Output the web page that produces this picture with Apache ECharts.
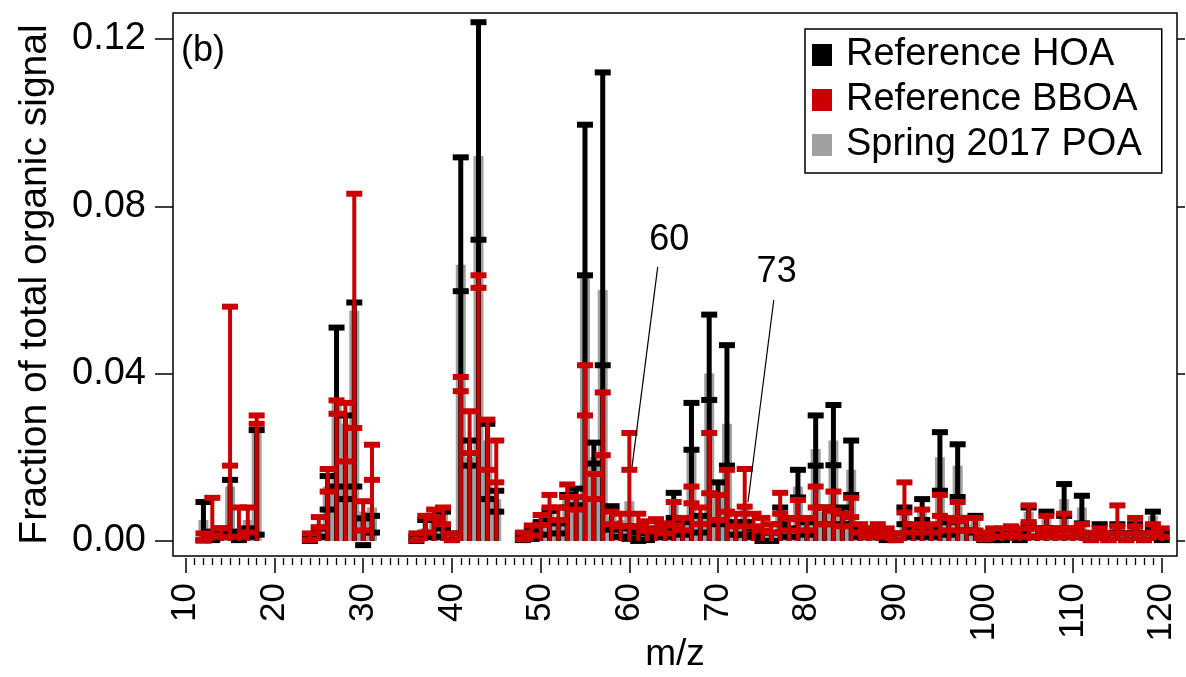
<!DOCTYPE html>
<html><head><meta charset="utf-8">
<script src="https://cdn.jsdelivr.net/npm/echarts@6/dist/echarts.min.js"></script>
<style>html,body{margin:0;padding:0;background:#fff}#c{width:1186px;height:677px}</style>
</head><body><div id="c"></div>
<script>
// ---- data ----
const mz = [12,13,14,15,16,17,18,
  24,25,26,27,28,29,30,31,
  36,37,38,39,40,41,42,43,44,45,
  48,49,50,51,52,53,54,55,56,57,58,59,60,61,62,63,64,65,66,67,68,69,70,
  71,72,73,74,75,76,77,78,79,80,81,82,83,84,85,86,87,88,89,90,
  91,92,93,94,95,96,97,98,99,100,101,102,103,104,105,106,107,108,109,110,
  111,112,113,114,115,116,117,118,119,120];
const hoa = [0.0047,0.0012,0.002,0.0083,0.0012,0.002,0.014,
  0.0005,0.002,0.0115,0.032,0.02,0.035,0.0022,0.004,
  0.0005,0.003,0.003,0.005,0.001,0.0757,0.021,0.098,0.019,0.0095,
  0.0008,0.0015,0.003,0.006,0.003,0.0095,0.0105,0.0815,0.021,0.077,0.0055,0.002,0.002,0.001,0.001,0.002,0.002,0.0085,0.003,0.0274,0.004,0.0439,0.009,
  0.0324,0.003,0.003,0.002,0.001,0.001,0.006,0.002,0.0137,0.003,0.024,0.006,0.0253,0.006,0.0175,0.002,0.002,0.002,0.001,0.001,
  0.006,0.002,0.0075,0.002,0.019,0.003,0.0168,0.004,0.004,0.001,0.001,0.001,0.002,0.001,0.006,0.002,0.005,0.002,0.0098,0.002,
  0.0075,0.001,0.003,0.001,0.003,0.001,0.003,0.001,0.005,0.001];
const hoaErr = [0.0046,0.001,0.001,0.0063,0.001,0.001,0.0125,
  0.0005,0.001,0.004,0.019,0.01,0.022,0.0032,0.002,
  0.0005,0.002,0.002,0.002,0.0008,0.016,0.003,0.026,0.009,0.0025,
  0.0006,0.001,0.0015,0.0012,0.0012,0.0015,0.002,0.018,0.0025,0.035,0.0028,0.001,0.0015,0.001,0.0008,0.001,0.001,0.003,0.0015,0.0056,0.002,0.0102,0.005,
  0.0144,0.0015,0.0015,0.001,0.001,0.001,0.002,0.001,0.0033,0.0015,0.006,0.002,0.0072,0.002,0.0065,0.001,0.001,0.001,0.0008,0.0008,
  0.002,0.001,0.0025,0.001,0.007,0.0015,0.0063,0.0015,0.002,0.0008,0.0008,0.0008,0.001,0.0008,0.002,0.001,0.002,0.001,0.0038,0.001,
  0.0033,0.0008,0.001,0.0008,0.001,0.0008,0.001,0.0008,0.002,0.0008];
const bboa = [0.001,0.0058,0.002,0.037,0.0045,0.005,0.029,
  0.001,0.0045,0.0145,0.032,0.026,0.055,0.006,0.0188,
  0.001,0.004,0.0065,0.006,0.001,0.0375,0.026,0.062,0.023,0.019,
  0.0012,0.0025,0.005,0.0095,0.0065,0.012,0.009,0.036,0.013,0.028,0.0055,0.005,0.0214,0.005,0.0035,0.004,0.003,0.0065,0.004,0.011,0.006,0.0186,0.008,
  0.012,0.005,0.0127,0.005,0.004,0.003,0.009,0.004,0.0075,0.004,0.0105,0.006,0.0095,0.005,0.008,0.003,0.002,0.003,0.002,0.001,
  0.0104,0.003,0.0055,0.003,0.0085,0.004,0.007,0.004,0.004,0.0012,0.002,0.002,0.0025,0.002,0.0065,0.002,0.004,0.002,0.0045,0.002,
  0.003,0.001,0.002,0.001,0.006,0.001,0.0045,0.001,0.003,0.002];
const bboaErr = [0.0008,0.0045,0.001,0.019,0.0035,0.003,0.001,
  0.0008,0.0012,0.0027,0.0016,0.007,0.028,0.0035,0.0042,
  0.0008,0.002,0.001,0.002,0.0008,0.0017,0.005,0.0015,0.006,0.005,
  0.0008,0.0012,0.0012,0.0015,0.0015,0.0015,0.0015,0.006,0.003,0.0075,0.0015,0.0015,0.0044,0.0015,0.0012,0.0012,0.0012,0.0028,0.0015,0.002,0.002,0.0072,0.003,
  0.005,0.0015,0.0045,0.0015,0.0015,0.001,0.0025,0.0015,0.0023,0.0015,0.0025,0.002,0.0023,0.0015,0.0023,0.001,0.001,0.001,0.001,0.0008,
  0.0036,0.001,0.002,0.001,0.0025,0.0015,0.0023,0.0015,0.0015,0.0008,0.001,0.001,0.001,0.001,0.002,0.001,0.002,0.001,0.002,0.001,
  0.001,0.0008,0.001,0.0008,0.0025,0.0008,0.001,0.0008,0.001,0.001];
const poa = [0.005,0.003,0.003,0.013,0.003,0.005,0.027,
  0.001,0.003,0.013,0.033,0.028,0.055,0.007,0.008,
  0.001,0.003,0.005,0.007,0.001,0.066,0.02,0.092,0.024,0.01,
  0.001,0.002,0.004,0.008,0.004,0.011,0.011,0.064,0.02,0.06,0.006,0.005,0.0095,0.003,0.002,0.003,0.002,0.009,0.004,0.022,0.006,0.04,0.011,
  0.028,0.004,0.008,0.003,0.002,0.002,0.008,0.003,0.013,0.004,0.022,0.007,0.024,0.006,0.017,0.003,0.002,0.002,0.001,0.001,
  0.007,0.002,0.007,0.002,0.02,0.004,0.018,0.004,0.005,0.001,0.001,0.001,0.002,0.001,0.007,0.002,0.006,0.002,0.01,0.002,
  0.008,0.002,0.003,0.001,0.004,0.001,0.004,0.001,0.006,0.002];
const seriesNames = ['Reference HOA','Reference BBOA','Spring 2017 POA'];
const xMajorTicks = [10,20,30,40,50,60,70,80,90,100,110,120];
const xMinorTicks = [];
for (let t = 11; t < 120; t++) if (t % 10 !== 0) xMinorTicks.push(t);
const yTicks = [0, 0.04, 0.08, 0.12];
const annoLabels = ['60','73'];
const annoTextAt = [[64.5,0.072],[76.6,0.0643]];
const annoFrom = [[63.2,0.0655],[76.28,0.0576]];
const annoTo = [[60.3,0.0177],[73.37,0.0093]];

// ---- chart ----
const FONT = '"Liberation Sans", Arial, Helvetica, sans-serif';
const X_MIN = 8.57, X_MAX = 121.72, Y_MIN = -0.0036, Y_MAX = 0.1262;
const RED = '#cc0000', GRAY = '#a0a0a0', BLACK = '#000000';

function errRender(color, stickW, capW, capH) {
  return function (params, api) {
    const x = api.value(0), v = api.value(1), e = api.value(2);
    const base = api.coord([x, 0]);
    const hi = api.coord([x, v + e]);
    const lo = api.coord([x, v - e]);
    const style = { fill: color };
    return { type: 'group', children: [
      { type: 'rect', shape: { x: base[0] - stickW / 2, y: hi[1], width: stickW, height: base[1] - hi[1] }, style },
      { type: 'rect', shape: { x: hi[0] - capW / 2, y: hi[1] - capH / 2, width: capW, height: capH }, style },
      { type: 'rect', shape: { x: lo[0] - capW / 2, y: lo[1] - capH / 2, width: capW, height: capH }, style }
    ]};
  };
}

const chart = echarts.init(document.getElementById('c'), null, { renderer: 'canvas' });
chart.setOption({
  animation: false,
  backgroundColor: '#fff',
  textStyle: { fontFamily: FONT },
  grid: { left: 173, top: 13, width: 1004, height: 543, containLabel: false, outerBoundsMode: 'none',
    show: true, borderColor: BLACK, borderWidth: 1.5, backgroundColor: 'transparent' },
  xAxis: [{
    type: 'value', min: X_MIN, max: X_MAX, position: 'bottom', offset: 2,
    axisLine: { show: false, onZero: false },
    axisTick: { show: true, length: 15, customValues: xMajorTicks, lineStyle: { color: BLACK, width: 1.5 } },
    axisLabel: { show: true, customValues: xMajorTicks, rotate: 90, fontSize: 35, margin: 25, color: BLACK, fontFamily: FONT },
    splitLine: { show: false },
    name: 'm/z', nameLocation: 'middle', nameGap: 78, nameMoveOverlap: false,
    nameTextStyle: { fontSize: 37, color: BLACK, fontFamily: FONT }
  }, {
    type: 'value', min: X_MIN, max: X_MAX, position: 'bottom', offset: 2,
    axisLine: { show: false, onZero: false },
    axisTick: { show: true, length: 7, customValues: xMinorTicks, lineStyle: { color: BLACK, width: 1.3 } },
    axisLabel: { show: false }, splitLine: { show: false }
  }],
  yAxis: [{
    type: 'value', min: Y_MIN, max: Y_MAX, position: 'left',
    axisLine: { show: false, onZero: false },
    axisTick: { show: true, length: 18, customValues: yTicks, lineStyle: { color: BLACK, width: 1.5 } },
    axisLabel: { show: true, customValues: yTicks, formatter: v => Math.abs(v).toFixed(2), fontSize: 38, margin: 27, color: BLACK, fontFamily: FONT },
    splitLine: { show: false },
    name: 'Fraction of total organic signal', nameLocation: 'middle', nameGap: 118, nameRotate: 90, nameMoveOverlap: false,
    nameTextStyle: { fontSize: 39, color: BLACK, fontFamily: FONT }
  }, {
    type: 'value', min: Y_MIN, max: Y_MAX, position: 'right',
    axisLine: { show: false, onZero: false },
    axisTick: { show: true, length: 8, customValues: yTicks, lineStyle: { color: BLACK, width: 1.5 } },
    axisLabel: { show: false }, splitLine: { show: false }
  }],
  legend: {
    orient: 'vertical', left: 805, top: 29,
    padding: [6, 20, 8, 7], itemGap: 5, itemWidth: 20, itemHeight: 22,
    borderColor: BLACK, borderWidth: 1.5, backgroundColor: '#fff',
    textStyle: { fontSize: 38, color: BLACK, fontFamily: FONT, padding: [0, 0, 0, 9], lineHeight: 40 },
    data: [
      { name: seriesNames[0], icon: 'rect', itemStyle: { color: BLACK } },
      { name: seriesNames[1], icon: 'rect', itemStyle: { color: RED } },
      { name: seriesNames[2], icon: 'rect', itemStyle: { color: GRAY } }
    ],
    selectedMode: false
  },
  graphic: [{ type: 'text', left: 181, top: 33, style: { text: '(b)', fontSize: 36, fill: BLACK, fontFamily: FONT } }],
  series: [
    { name: seriesNames[2], type: 'bar', z: 1, xAxisIndex: 0, yAxisIndex: 0, barWidth: 10,
      itemStyle: { color: GRAY }, data: mz.map((m, i) => [m, poa[i]]) },
    { name: seriesNames[0], type: 'custom', z: 3, xAxisIndex: 0, yAxisIndex: 0, clip: true,
      itemStyle: { color: BLACK }, renderItem: errRender(BLACK, 5, 16, 6),
      encode: { x: 0, y: 1 }, data: mz.map((m, i) => [m, hoa[i], hoaErr[i]]) },
    { name: seriesNames[1], type: 'custom', z: 4, xAxisIndex: 0, yAxisIndex: 0, clip: true,
      itemStyle: { color: RED }, renderItem: errRender(RED, 4, 16, 6),
      encode: { x: 0, y: 1 }, data: mz.map((m, i) => [m, bboa[i], bboaErr[i]]) },
    { name: 'annotations', type: 'line', z: 5, xAxisIndex: 0, yAxisIndex: 0, data: [],
      markLine: { silent: true, symbol: ['none', 'none'], animation: false,
        lineStyle: { color: BLACK, width: 1.2, type: 'solid' }, label: { show: false },
        data: annoFrom.map((p, i) => [{ coord: p }, { coord: annoTo[i] }]) },
      markPoint: { silent: true, symbol: 'circle', symbolSize: 1, itemStyle: { color: 'rgba(0,0,0,0)' },
        label: { show: true, position: 'inside', formatter: '{b}', fontSize: 36, color: BLACK, fontFamily: FONT },
        data: annoLabels.map((t, i) => ({ name: t, coord: annoTextAt[i] })) } }
  ]
});
</script></body></html>
